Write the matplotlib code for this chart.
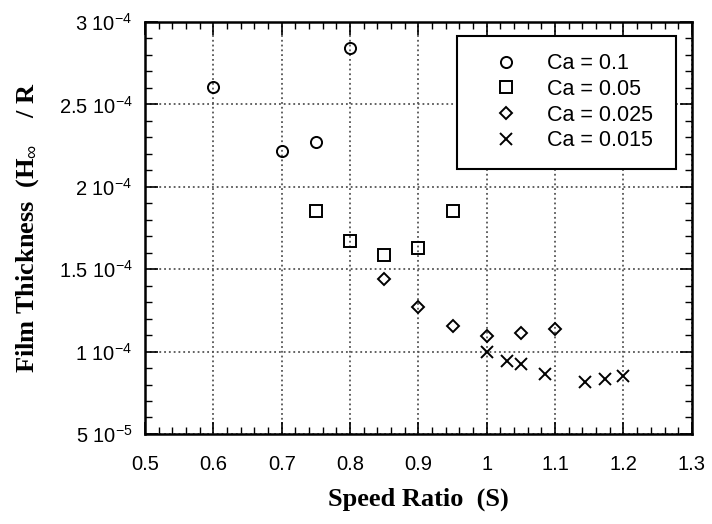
import matplotlib
matplotlib.use('Agg')
import matplotlib.pyplot as plt
from matplotlib.ticker import MultipleLocator, FixedLocator

plt.rcParams['font.family'] = ['Liberation Sans', 'DejaVu Sans']
plt.rcParams['mathtext.fontset'] = 'custom'
plt.rcParams['mathtext.rm'] = 'Liberation Sans'
plt.rcParams['mathtext.it'] = 'Liberation Sans'

# data
s_01 = [0.6, 0.7, 0.75, 0.8]
h_01 = [2.606e-4, 2.217e-4, 2.27e-4, 2.84e-4]

s_005 = [0.75, 0.8, 0.85, 0.9, 0.95]
h_005 = [1.855e-4, 1.673e-4, 1.584e-4, 1.627e-4, 1.853e-4]

s_0025 = [0.85, 0.9, 0.95, 1.0, 1.05, 1.1]
h_0025 = [1.44e-4, 1.272e-4, 1.157e-4, 1.095e-4, 1.115e-4, 1.137e-4]

s_0015 = [1.0, 1.03, 1.05, 1.085, 1.144, 1.173, 1.2]
h_0015 = [1.0e-4, 9.43e-5, 9.23e-5, 8.64e-5, 8.17e-5, 8.32e-5, 8.52e-5]

x_ticks = [0.5, 0.6, 0.7, 0.8, 0.9, 1.0, 1.1, 1.2, 1.3]
x_tick_labels = ['0.5', '0.6', '0.7', '0.8', '0.9', '1', '1.1', '1.2', '1.3']
y_ticks = [5e-5, 1e-4, 1.5e-4, 2e-4, 2.5e-4, 3e-4]
y_tick_labels = [r'5 10$^{-5}$', r'1 10$^{-4}$', r'1.5 10$^{-4}$',
                 r'2 10$^{-4}$', r'2.5 10$^{-4}$', r'3 10$^{-4}$']

fig = plt.figure(figsize=(7.12, 5.24), dpi=100)
ax = fig.add_axes([0.2037, 0.1718, 0.768, 0.7862])

mk = dict(linestyle='none', markerfacecolor='none', markeredgecolor='black',
          markeredgewidth=1.4, color='black')
ax.plot(s_01, h_01, marker='o', markersize=8, label='Ca = 0.1', **mk)
ax.plot(s_005, h_005, marker='s', markersize=8, label='Ca = 0.05', **mk)
ax.plot(s_0025, h_0025, marker='D', markersize=6.5, label='Ca = 0.025', **mk)
ax.plot(s_0015, h_0015, marker='x', markersize=9, label='Ca = 0.015', **mk)

ax.set_xlim(0.5, 1.3)
ax.set_ylim(5e-5, 3e-4)
ax.xaxis.set_major_locator(FixedLocator(x_ticks))
ax.set_xticklabels(x_tick_labels)
ax.xaxis.set_minor_locator(MultipleLocator(0.02))
ax.yaxis.set_major_locator(FixedLocator(y_ticks))
ax.set_yticklabels(y_tick_labels)
ax.yaxis.set_minor_locator(MultipleLocator(1e-5))

ax.tick_params(which='both', direction='in', top=True, right=True, colors='black')
ax.tick_params(which='major', length=9, width=1.2)
ax.tick_params(which='minor', length=5, width=1.0)
ax.tick_params(axis='x', which='major', pad=15, labelsize=14.5)
ax.tick_params(axis='y', which='major', pad=9, labelsize=14.5)

for sp in ax.spines.values():
    sp.set_linewidth(1.8)

ax.grid(True, which='major', linestyle=':', color='#555555', linewidth=1.3)
ax.set_axisbelow(True)

ax.set_xlabel('Speed Ratio  (S)', family='Liberation Serif', fontweight='bold',
              fontsize=19, labelpad=10)
ax.set_ylabel(r'Film Thickness  (H$_{\infty}$    / R', family='Liberation Serif',
              fontweight='bold', fontsize=19, labelpad=13)

leg = ax.legend(loc='upper left', bbox_to_anchor=(0.5704, 0.655, 0.4013, 0.311),
                mode='expand', borderaxespad=0, fancybox=False, edgecolor='black',
                framealpha=1, fontsize=15.5, handletextpad=0.4,
                borderpad=0.8, labelspacing=0.22, handlelength=3.0)
leg.get_frame().set_linewidth(1.5)

fig.savefig('out.png', dpi=100)
